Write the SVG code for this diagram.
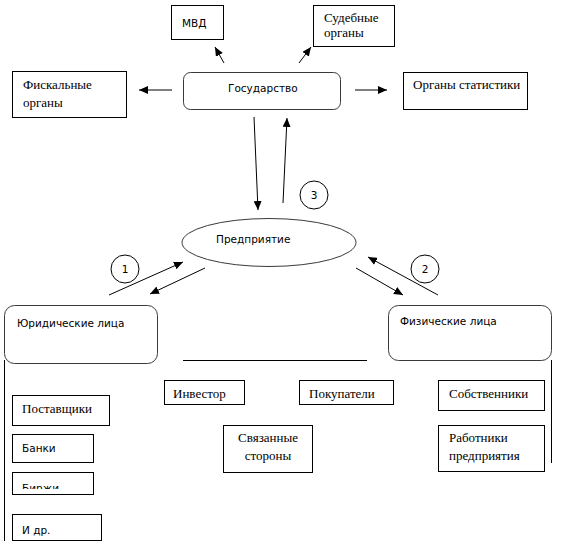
<svg xmlns="http://www.w3.org/2000/svg" width="562" height="547" viewBox="0 0 562 547">
<style>
.box{fill:#fff;stroke:#000;stroke-width:1}
.rbox{fill:#fff;stroke:#3a3a3a;stroke-width:1}
.sans{font-family:"DejaVu Sans","Liberation Sans",sans-serif;font-size:10.5px;fill:#000}
.serif{font-family:"Liberation Serif","Times New Roman",serif;font-size:13px;fill:#000}
.ln{stroke:#000;stroke-width:1;fill:none}
.arr{stroke:#000;stroke-width:1;fill:none;marker-end:url(#ah)}
.circ{fill:#fff;stroke:#000;stroke-width:1}
</style>
<defs>
<marker id="ah" markerUnits="userSpaceOnUse" markerWidth="10" markerHeight="8" refX="9" refY="4" orient="auto">
<path d="M0,0 L9,4 L0,8 z" fill="#000"/>
</marker>
<clipPath id="clipBirzhi"><rect x="12" y="472" width="81" height="17"/></clipPath>
<clipPath id="clipIdr"><rect x="12" y="514" width="90" height="24"/></clipPath>
</defs>
<rect width="562" height="547" fill="#fff"/>

<g id="connectors">
<line class="arr" x1="172" y1="90" x2="139" y2="90"/>
<line class="arr" x1="224" y1="63" x2="215" y2="47"/>
<line class="arr" x1="299" y1="63" x2="311" y2="47"/>
<line class="arr" x1="355" y1="90" x2="387" y2="90"/>
<line class="arr" x1="254" y1="117" x2="258" y2="210"/>
<line class="arr" x1="283" y1="203" x2="287" y2="118"/>
<line class="arr" x1="109" y1="295" x2="183" y2="262"/>
<line class="arr" x1="205" y1="268" x2="150" y2="294"/>
<line class="arr" x1="356" y1="268" x2="403" y2="295"/>
<line class="arr" x1="438" y1="295" x2="368" y2="257"/>
<line class="ln" x1="4.5" y1="360" x2="4.5" y2="541"/>
<line class="ln" x1="183" y1="360.5" x2="367" y2="360.5"/>
<line class="ln" x1="551.5" y1="360" x2="551.5" y2="463"/>
</g>

<g id="mvd">
<rect class="box" x="171.5" y="5.5" width="52" height="34"/>
<text class="sans" x="182" y="27">МВД</text>
</g>
<g id="sud">
<rect class="box" x="313.5" y="5.5" width="81" height="41"/>
<text class="serif" x="324" y="22">Судебные</text>
<text class="serif" x="324" y="37">органы</text>
</g>
<g id="fisk">
<rect class="box" x="12.5" y="71.5" width="114" height="46"/>
<text class="serif" x="23" y="89">Фискальные</text>
<text class="serif" x="23" y="107">органы</text>
</g>
<g id="gos">
<rect class="rbox" x="183.5" y="72.5" width="157" height="37" rx="7"/>
<text class="sans" x="228" y="92">Государство</text>
</g>
<g id="stat">
<rect class="box" x="403.5" y="72.5" width="124" height="37"/>
<text class="serif" x="413" y="89">Органы статистики</text>
</g>
<g id="pred">
<ellipse class="rbox" cx="269" cy="242.5" rx="87" ry="24"/>
<text class="sans" x="216" y="243">Предприятие</text>
</g>
<g id="c3">
<circle class="circ" cx="314" cy="195" r="14"/>
<text class="sans" x="314" y="199" text-anchor="middle">3</text>
</g>
<g id="c1">
<circle class="circ" cx="125" cy="269" r="14"/>
<text class="sans" x="125" y="273" text-anchor="middle">1</text>
</g>
<g id="c2">
<circle class="circ" cx="425" cy="269" r="14"/>
<text class="sans" x="425" y="273" text-anchor="middle">2</text>
</g>
<g id="yur">
<rect class="rbox" x="4.5" y="305.5" width="153" height="58" rx="10"/>
<text class="sans" x="17" y="327">Юридические лица</text>
</g>
<g id="fiz">
<rect class="rbox" x="388.5" y="305.5" width="163" height="55" rx="10"/>
<text class="sans" x="400" y="325">Физические лица</text>
</g>
<g id="post">
<rect class="box" x="12.5" y="395.5" width="97" height="30"/>
<text class="serif" x="22" y="413">Поставщики</text>
</g>
<g id="banki">
<rect class="box" x="12.5" y="434.5" width="81" height="28"/>
<text class="sans" x="22" y="452">Банки</text>
</g>
<g id="birzhi">
<rect class="box" x="12.5" y="472.5" width="81" height="22"/>
<text class="sans" x="22" y="492" clip-path="url(#clipBirzhi)">Биржи</text>
</g>
<g id="idr">
<rect class="box" x="12.5" y="514.5" width="89" height="26"/>
<text class="sans" x="22" y="534" clip-path="url(#clipIdr)">И др.</text>
</g>
<g id="invest">
<rect class="box" x="164.5" y="380.5" width="80" height="24"/>
<text class="serif" x="173" y="398">Инвестор</text>
</g>
<g id="pokup">
<rect class="box" x="299.5" y="380.5" width="94" height="24"/>
<text class="serif" x="309" y="398">Покупатели</text>
</g>
<g id="sobst">
<rect class="box" x="438.5" y="380.5" width="106" height="30"/>
<text class="serif" x="449" y="398">Собственники</text>
</g>
<g id="svyaz">
<rect class="box" x="223.5" y="425.5" width="89" height="47"/>
<text class="serif" x="268" y="442" text-anchor="middle">Связанные</text>
<text class="serif" x="268" y="460" text-anchor="middle">стороны</text>
</g>
<g id="rabot">
<rect class="box" x="438.5" y="425.5" width="106" height="46"/>
<text class="serif" x="449" y="442">Работники</text>
<text class="serif" x="449" y="460">предприятия</text>
</g>
</svg>
